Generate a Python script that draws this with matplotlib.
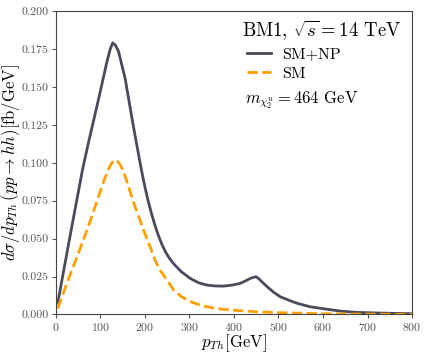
import matplotlib
matplotlib.use("Agg")
import matplotlib.pyplot as plt
import numpy as np

plt.rcParams['font.family'] = 'serif'
plt.rcParams['font.serif'] = ['cmr10']
plt.rcParams['mathtext.fontset'] = 'cm'
plt.rcParams['axes.formatter.use_mathtext'] = True

# values
pt_np = [4.5, 32, 60, 73, 96, 115, 122, 128, 134, 141, 148, 156, 165, 174,
         185, 193, 200, 207, 214, 222, 230, 238, 246, 255, 264, 282, 302, 320,
         339, 358, 377, 395, 414, 425, 437, 444, 450, 456, 465, 474, 490, 504,
         526, 542, 571, 601, 640, 676, 720, 751, 800]
xs_np = [0.0074, 0.0512, 0.0951, 0.1125, 0.1416, 0.1665, 0.1745, 0.1790,
         0.1775, 0.1735, 0.1650, 0.1554, 0.1400, 0.1247, 0.1070, 0.0945,
         0.0845, 0.0755, 0.0677, 0.0595, 0.0525, 0.0465, 0.0415, 0.0372,
         0.0337, 0.0282, 0.0238, 0.0210, 0.0194, 0.0188, 0.0187, 0.0193,
         0.0205, 0.0220, 0.0238, 0.0245, 0.0249, 0.0235, 0.0210, 0.0185,
         0.0145, 0.0117, 0.0091, 0.0074, 0.0051, 0.0038, 0.0022, 0.0014,
         0.0010, 0.0008, 0.0005]

pt_sm = [4.5, 28, 51, 73, 96, 108, 118, 125, 132, 138, 145, 152, 160, 167,
         174, 182, 190, 200, 212, 223, 234, 242, 264, 282, 302, 320, 339, 358,
         377, 414, 450, 500, 600, 700, 800]
xs_sm = [0.0040, 0.0227, 0.0403, 0.0578, 0.0775, 0.0880, 0.0955, 0.0995,
         0.1018, 0.1012, 0.0985, 0.0945, 0.0875, 0.0810, 0.0745, 0.0680,
         0.0615, 0.0535, 0.0446, 0.0359, 0.0293, 0.0260, 0.0165, 0.0118,
         0.0086, 0.0066, 0.0051, 0.0041, 0.0034, 0.0025, 0.0018, 0.0012,
         0.0005, 0.0002, 0.0001]

fig = plt.figure(figsize=(4.27, 3.56), dpi=100)
ax = fig.add_axes([0.1304, 0.1166, 0.8346, 0.8525])

ax.plot(pt_np, xs_np, color='#4a4a5e', lw=2, label='SM+NP')
ax.plot(pt_sm, xs_sm, color='#ffa000', lw=2, ls='--', label='SM')

ax.set_xlim(0, 800)
ax.set_ylim(0, 0.2)
ax.set_xticks(np.arange(0, 801, 100))
ax.set_yticks(np.arange(0, 0.2001, 0.025))
ax.set_yticklabels(['%.3f' % v for v in np.arange(0, 0.2001, 0.025)])
ax.tick_params(labelsize=8.5, colors='#555555', length=3, pad=2)
for s in ax.spines.values():
    s.set_color('#444444')

ax.set_xlabel(r'$p_{Th}[\mathrm{GeV}]$', fontsize=12)
ax.xaxis.set_label_coords(0.5, -0.058)
ax.set_ylabel(r'$d\sigma/dp_{Th}\,(pp\rightarrow hh)[\mathrm{fb/GeV}]$',
              fontsize=12)
ax.yaxis.set_label_coords(-0.095, 0.5)

fig.text(321.5 / 427, 1 - 30 / 356, r'BM1, $\sqrt{s}=14$ TeV', fontsize=13.5,
         ha='center', va='center')
leg = ax.legend(loc='upper left', frameon=False, fontsize=11.5,
                bbox_to_anchor=(247 / 427, 1 - 47 / 356),
                bbox_transform=fig.transFigure, borderpad=0, borderaxespad=0,
                handlelength=1.5, handletextpad=0.7, labelspacing=0.35)
fig.text(245 / 427, 1 - 100 / 356, r'$m_{\chi_2^u}=464$ GeV', fontsize=12,
         ha='left', va='center')

fig.savefig('out.png', dpi=100)
